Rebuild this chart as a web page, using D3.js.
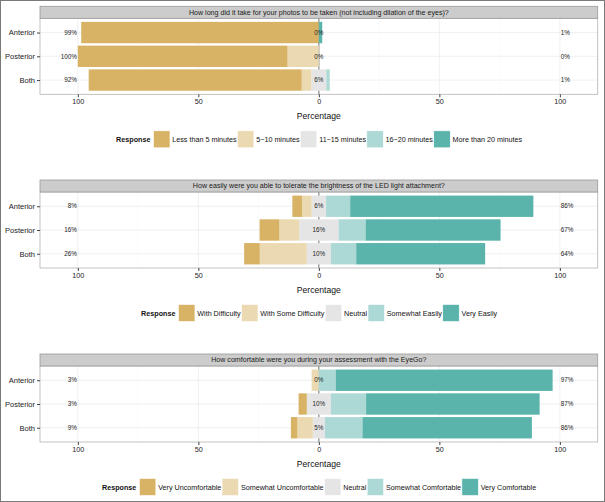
<!DOCTYPE html>
<html><head><meta charset="utf-8">
<script src="https://cdn.jsdelivr.net/npm/d3@7"></script>
<style>body{margin:0;background:#fff}svg{display:block;font-family:"Liberation Sans",Arial,Helvetica,sans-serif}</style>
</head><body><svg id="c" width="605" height="502"></svg>
<script>
const rows = ["Anterior", "Posterior", "Both"];
const titles = [
  "How long did it take for your photos to be taken (not including dilation of the eyes)?",
  "How easily were you able to tolerate the brightness of the LED light attachment?",
  "How comfortable were you during your assessment with the EyeGo?"
];
const levels1 = ["Less than 5 minutes", "5\u221210 minutes", "11\u221215 minutes", "16\u221220 minutes", "More than 20 minutes"];
const levels2 = ["With Difficulty", "With Some Difficulty", "Neutral", "Somewhat Easily", "Very Easily"];
const levels3 = ["Very Uncomfortable", "Somewhat Uncomfortable", "Neutral", "Somewhat Comfortable", "Very Comfortable"];
// values per row (Anterior, Posterior, Both), per response level, percent
const values1 = [[98.6, 0, 0, 0, 1.4], [87, 13, 0, 0, 0], [88.4, 4, 6.2, 1.4, 0]];
const values2 = [[4, 4, 6, 10, 76], [8.2, 8.2, 16.4, 11.2, 56], [6.5, 19.5, 10, 10.5, 53.5]];
const values3 = [[0, 3, 0, 7, 90], [3.4, 0, 10, 14.6, 72], [2.7, 6.4, 5, 15.6, 70.3]];
const xTicks = [-100, -50, 0, 50, 100];
const xMinor = [-75, -25, 25, 75];
const colors = ["#D8B365", "#EBD9B2", "#E5E5E5", "#ACD9D5", "#5AB4AC"];

const panels = [
  {title: titles[0], levels: levels1, values: values1, top: 6.3},
  {title: titles[1], levels: levels2, values: values2, top: 180},
  {title: titles[2], levels: levels3, values: values3, top: 354}
];

const svg = d3.select("#c");
svg.append("rect").attr("x", 0.5).attr("y", 0.5).attr("width", 604).attr("height", 501)
  .attr("fill", "#fff").attr("stroke", "#7a7a7a");

const L = 40, R = 597.7, stripH = 12, plotH = 76;
const x = d3.scaleLinear().domain([-115.7, 115.7]).range([L, R]);
const fmt = v => Math.round(v) + "%";

panels.forEach(p => {
  const g = svg.append("g");
  const pTop = p.top + stripH, pBot = pTop + plotH;
  const y = d3.scalePoint().domain(rows).range([pTop, pBot]).padding(0.6);
  const bh = y.step() * 0.9;

  // panel background
  g.append("rect").attr("x", L).attr("y", pTop).attr("width", R - L).attr("height", plotH).attr("fill", "#fff");
  // grid
  g.selectAll(".mn").data(xMinor).join("line")
    .attr("x1", d => x(d)).attr("x2", d => x(d)).attr("y1", pTop).attr("y2", pBot)
    .attr("stroke", "#f7f7f7").attr("stroke-width", 0.5);
  g.selectAll(".mj").data(xTicks).join("line")
    .attr("x1", d => x(d)).attr("x2", d => x(d)).attr("y1", pTop).attr("y2", pBot)
    .attr("stroke", "#ececec").attr("stroke-width", 0.8);
  g.selectAll(".hg").data(rows).join("line")
    .attr("x1", L).attr("x2", R).attr("y1", d => y(d)).attr("y2", d => y(d))
    .attr("stroke", "#ececec").attr("stroke-width", 0.8);
  // zero line
  g.append("line").attr("x1", x(0)).attr("x2", x(0)).attr("y1", pTop).attr("y2", pBot)
    .attr("stroke", "#555").attr("stroke-width", 0.8);

  // bars
  const segs = [];
  rows.forEach((r, i) => {
    const v = p.values[i];
    const half = v[2] / 2;
    segs.push({r, k: 2, a: -half, b: half});
    segs.push({r, k: 1, a: -half - v[1], b: -half});
    segs.push({r, k: 0, a: -half - v[1] - v[0], b: -half - v[1]});
    segs.push({r, k: 3, a: half, b: half + v[3]});
    segs.push({r, k: 4, a: half + v[3], b: half + v[3] + v[4]});
  });
  g.selectAll(".bar").data(segs.filter(s => s.b - s.a > 0)).join("rect")
    .attr("x", d => x(d.a)).attr("width", d => x(d.b) - x(d.a))
    .attr("y", d => y(d.r) - bh / 2).attr("height", bh)
    .attr("fill", d => colors[d.k]);

  // percentage labels
  rows.forEach((r, i) => {
    const v = p.values[i];
    g.append("text").attr("x", x(-100) - 1).attr("y", y(r)).attr("dy", "0.35em")
      .attr("text-anchor", "end").attr("font-size", 6.3).attr("fill", "#222").text(fmt(v[0] + v[1]));
    g.append("text").attr("x", x(0)).attr("y", y(r)).attr("dy", "0.35em")
      .attr("text-anchor", "middle").attr("font-size", 6.3).attr("fill", "#222").text(fmt(v[2]));
    g.append("text").attr("x", x(100) + 1).attr("y", y(r)).attr("dy", "0.35em")
      .attr("text-anchor", "start").attr("font-size", 6.3).attr("fill", "#222").text(fmt(v[3] + v[4]));
  });

  // panel border
  g.append("rect").attr("x", L).attr("y", pTop).attr("width", R - L).attr("height", plotH)
    .attr("fill", "none").attr("stroke", "#b3b3b3").attr("stroke-width", 0.8);
  // strip
  g.append("rect").attr("x", L).attr("y", p.top).attr("width", R - L).attr("height", stripH)
    .attr("fill", "#cccccc").attr("stroke", "#9a9a9a").attr("stroke-width", 0.8);
  g.append("text").attr("x", (L + R) / 2).attr("y", p.top + stripH / 2).attr("dy", "0.35em")
    .attr("text-anchor", "middle").attr("font-size", 7.1).attr("fill", "#1a1a1a").text(p.title);

  // x axis
  const xa = g.append("g").attr("transform", `translate(0,${pBot})`)
    .call(d3.axisBottom(x).tickValues(xTicks).tickFormat(d => Math.abs(d)).tickSize(3).tickPadding(2));
  xa.select(".domain").remove();
  xa.selectAll("line").attr("stroke", "#444");
  xa.selectAll("text").attr("font-size", 7.2).attr("fill", "#222").attr("font-family", null);
  g.append("text").attr("x", x(0)).attr("y", pBot + 21.5).attr("dy", "0.35em")
    .attr("text-anchor", "middle").attr("font-size", 8.6).attr("fill", "#111").text("Percentage");

  // y axis
  const ya = g.append("g").attr("transform", `translate(${L},0)`)
    .call(d3.axisLeft(y).tickSize(3).tickPadding(2));
  ya.select(".domain").remove();
  ya.selectAll("line").attr("stroke", "#444");
  ya.selectAll("text").attr("font-size", 7.5).attr("fill", "#222").attr("font-family", null);

  // legend
  const lg = g.append("g");
  const ly = p.top + 133;
  let cx = 0;
  const t0 = lg.append("text").attr("x", cx).attr("y", ly).attr("dy", "0.35em")
    .attr("font-size", 7.2).attr("font-weight", "bold").attr("fill", "#111").text("Response");
  cx += t0.node().getComputedTextLength() + 3;
  p.levels.forEach((lab, k) => {
    lg.append("rect").attr("x", cx).attr("y", ly - 8.5).attr("width", 16.5).attr("height", 17)
      .attr("fill", colors[k]).attr("stroke", "#fff").attr("stroke-width", 0.6);
    cx += 16.5 + 2.3;
    const t = lg.append("text").attr("x", cx).attr("y", ly).attr("dy", "0.35em")
      .attr("font-size", 7.2).attr("fill", "#111").text(lab);
    cx += t.node().getComputedTextLength() + 0.8;
  });
  lg.attr("transform", `translate(${319.5 - cx / 2},0)`);
});
</script></body></html>
